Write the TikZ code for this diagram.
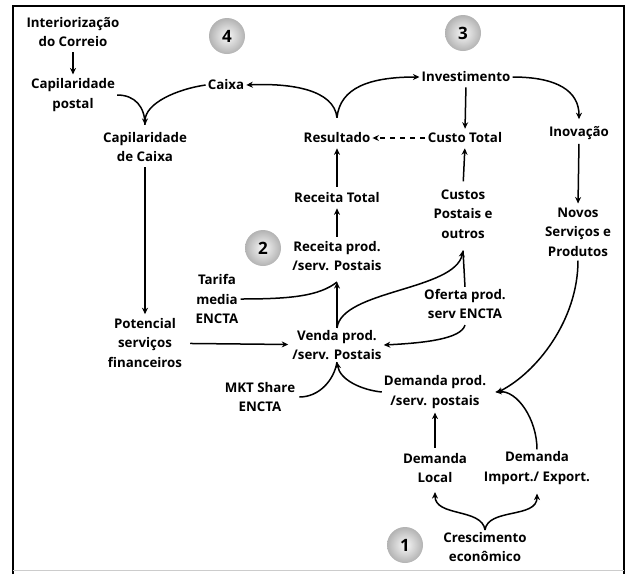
\documentclass[tikz,border=0pt]{standalone}
\usepackage{fontspec}
\setmainfont{Open Sans}
\usetikzlibrary{arrows.meta,shapes.geometric}
\tikzset{
  lbl/.style={font=\fontsize{13.3}{19.5}\selectfont\bfseries, align=center, inner sep=2pt},
  arr/.style={line width=1.5pt, -{Stealth[length=6.5pt,width=6pt]}},
  plain/.style={line width=1.5pt},
  numball/.style={circle, minimum size=36pt, inner sep=0pt, shading=radial, inner color=gray!5, outer color=gray!60, font=\fontsize{17}{17}\selectfont\bfseries}
}
\begin{document}
\begin{tikzpicture}[x=1pt,y=-1pt]
\useasboundingbox (0,0) rectangle (630,574);
% frame
\draw[line width=1.3pt] (13,574) -- (13,6) -- (624,6) -- (624,574);
\draw[line width=0.8pt, gray!40] (13,570) -- (624,570);

% number balls
\node[numball] (b4) at (227,36) {4};
\node[numball] (b3) at (463,33) {3};
\node[numball] (b2) at (263,248) {2};
\node[numball] (b1) at (405,545) {1};

% labels
\node[lbl] (intr) at (73,32) {Interiorização\\do Correio};
\node[lbl] (capp) at (73,95) {Capilaridade\\postal};
\node[lbl] (caixa) at (226,85) {Caixa};
\node[lbl] (capc) at (145,147) {Capilaridade\\de Caixa};
\node[lbl] (pot) at (145,343) {Potencial\\serviços\\financeiros};
\node[lbl] (tar) at (217,299) {Tarifa\\media\\ENCTA};
\node[lbl] (recp) at (337,256) {Receita prod.\\/serv. Postais};
\node[lbl] (venda) at (337,345) {Venda prod.\\/serv. Postais};
\node[lbl] (oferta) at (465,304) {Oferta prod.\\serv ENCTA};
\node[lbl] (custos) at (463,214) {Custos\\Postais e\\outros};
\node[lbl] (rect) at (337,198) {Receita Total};
\node[lbl] (res) at (337,138) {Resultado};
\node[lbl] (ct) at (465,138) {Custo Total};
\node[lbl] (inv) at (466,77) {Investimento};
\node[lbl] (inov) at (579,133) {Inovação};
\node[lbl] (novos) at (578,232) {Novos\\Serviços e\\Produtos};
\node[lbl] (dem) at (435,392) {Demanda prod.\\/serv. postais};
\node[lbl] (dloc) at (435,468) {Demanda\\Local};
\node[lbl] (dimp) at (537,468) {Demanda\\Import./ Export.};
\node[lbl] (cresc) at (485,547) {Crescimento\\econômico};
\node[lbl] (mkt) at (260,397) {MKT Share\\ENCTA};

% connectors - left column
\draw[arr, shorten <=3pt, shorten >=2pt] (intr.south) -- (capp.north);
\draw[plain] (capp.east) .. controls +(18,0) and +(0,-18) .. ([yshift=5pt]capc.north);
\draw[arr] (caixa.west) .. controls +(-28,4) and +(0,-22) .. ([yshift=5pt]capc.north);
\draw[arr, shorten <=3pt, shorten >=2pt] (capc.south) -- (pot.north);
\draw[arr, shorten <=6pt, shorten >=2pt] (pot) -- (venda);

% revenue side
\draw[plain] (tar.east) .. controls +(50,0) and +(-18,14) .. ([yshift=-9pt]recp.south);
\draw[arr] (venda.north) -- ([yshift=-9pt]recp.south);
\draw[arr] (venda.north) .. controls +(5,-38) and +(-8,40) .. ([yshift=-10pt]custos.south);
\draw[plain] (oferta.north) -- ([yshift=-10pt]custos.south);
\draw[arr] ([yshift=-4pt]oferta.south) .. controls +(-4,14) and +(40,-2) .. (venda.east);
\draw[arr, shorten <=2pt, shorten >=3pt] (recp.north) -- (rect.south);
\draw[arr, shorten <=4pt, shorten >=3pt] (rect.north) -- (res.south);
\draw[arr, dash pattern=on 5pt off 5pt, shorten <=1pt] (ct.west) -- (res.east);
\draw[arr, shorten <=6pt, shorten >=3pt] (custos.north) -- (ct.south);
\draw[arr, shorten <=3pt, shorten >=2pt] (inv.south) -- (ct.north);

% result loop
\draw[arr] ([yshift=13pt]res.north) .. controls +(-3,-28) and +(45,-2) .. (caixa.east);
\draw[arr] ([yshift=13pt]res.north) .. controls +(3,-30) and +(-50,0) .. (inv.west);
\draw[arr] (inv.east) .. controls +(45,0) and +(0,-28) .. ([yshift=5pt]inov.north);
\draw[arr, shorten <=2pt, shorten >=2pt] (inov.south) -- (novos.north);

% demand side
\draw[arr] ([yshift=-2pt]novos.south) .. controls +(0,60) and +(40,-20) .. ([xshift=8pt,yshift=-1pt]dem.east);
\draw[arr] (dimp.north) .. controls +(0,-30) and +(22,-2) .. ([xshift=7pt]dem.east);
\draw[arr, shorten <=3pt, shorten >=2pt] (dloc.north) -- (dem.south);
\draw[arr] (cresc.north) .. controls +(-3,-22) and +(0,25) .. ([yshift=-7pt]dloc.south);
\draw[arr] (cresc.north) .. controls +(3,-22) and +(0,25) .. ([yshift=-7pt]dimp.south);
\draw[plain] ([xshift=2pt]mkt.east) .. controls +(20,0) and +(-3,18) .. (venda.south);
\draw[arr] (dem.west) .. controls +(-20,-2) and +(3,18) .. (venda.south);
\end{tikzpicture}
\end{document}
